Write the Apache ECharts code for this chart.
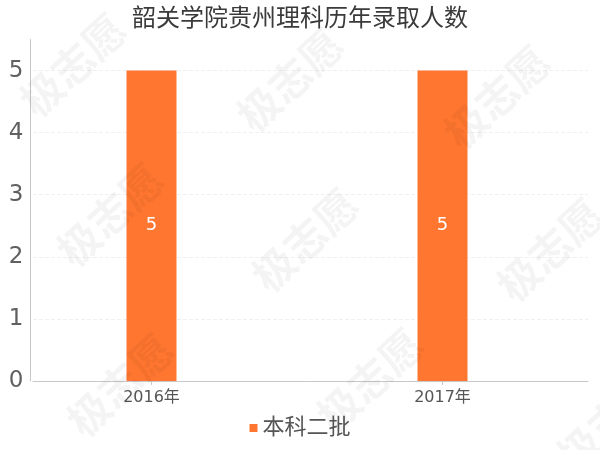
<!DOCTYPE html>
<html><head><meta charset="utf-8">
<script src="https://cdn.jsdelivr.net/npm/echarts@6/dist/echarts.min.js"></script>
<style>html,body{margin:0;padding:0;background:#fff}#c{width:600px;height:450px}</style>
</head><body><div id="c"></div>
<script>
const titleText = '韶关学院贵州理科历年录取人数';
const categories = ['2016年', '2017年'];
const seriesName = '本科二批';
const values = [5, 5];
const yMax = 5.5;

const FONT = '"DejaVu Sans", "Noto Sans CJK SC", sans-serif';
const chart = echarts.init(document.getElementById('c'), null, {renderer: 'canvas'});

const wmPos = [[73,65],[290,80],[497,97],[110,215],[305,240],[550,250],[120,385],[370,380],[610,420]];
const watermarks = wmPos.map(p => ({
  type: 'text', x: p[0], y: p[1], rotation: Math.PI / 4.2, z: 100, silent: true,
  style: {text: '极志愿', fill: 'rgba(0,0,0,0.045)', font: 'bold 42px "Noto Sans CJK SC"', align: 'center', verticalAlign: 'middle'}
}));

chart.setOption({
  animation: false,
  backgroundColor: '#fff',
  title: {text: titleText, left: 'center', top: 3, textStyle: {fontSize: 24, fontWeight: 'normal', color: '#3a3a3a', fontFamily: FONT}},
  legend: {data: [seriesName], bottom: 6, left: 'center', icon: 'rect', itemWidth: 8, itemHeight: 8,
    textStyle: {fontSize: 22, color: '#555', fontFamily: FONT}},
  grid: [
    {left: 33, right: 12, top: 39.5, bottom: 69},
    {left: 6, right: 12, top: 39.5, bottom: 69}
  ],
  xAxis: [
    {type: 'category', gridIndex: 0, data: categories, axisLine: {lineStyle: {color: '#c8c8c8'}}, axisTick: {show: false}, axisLabel: {show: false}},
    {type: 'category', gridIndex: 1, data: categories, axisLine: {show: false},
      axisTick: {show: true, alignWithLabel: true, length: 4, lineStyle: {color: '#c8c8c8'}},
      axisLabel: {fontSize: 16, color: '#555', fontFamily: FONT, margin: 9}}
  ],
  yAxis: [
    {type: 'value', gridIndex: 0, min: 0, max: yMax, interval: 1, offset: 2.5,
      axisLine: {show: true, lineStyle: {color: '#c8c8c8'}}, axisTick: {show: false},
      axisLabel: {fontSize: 23, color: '#606060', fontFamily: FONT, margin: 7, formatter: v => Number.isInteger(v) ? String(v) : ''},
      splitLine: {show: true, lineStyle: {type: 'dashed', color: ['#f0f0f0','#f0f0f0','#f0f0f0','#f0f0f0','#f0f0f0','#f0f0f0','rgba(0,0,0,0)']}}},
    {type: 'value', gridIndex: 1, min: 0, max: yMax, show: false, splitLine: {show: false}}
  ],
  series: [{
    name: seriesName, type: 'bar', xAxisIndex: 1, yAxisIndex: 1, data: values, barWidth: 50,
    itemStyle: {color: '#ff7630'},
    label: {show: true, position: 'inside', color: '#fff', fontSize: 18, fontFamily: FONT}
  }],
  graphic: watermarks
});
</script></body></html>
